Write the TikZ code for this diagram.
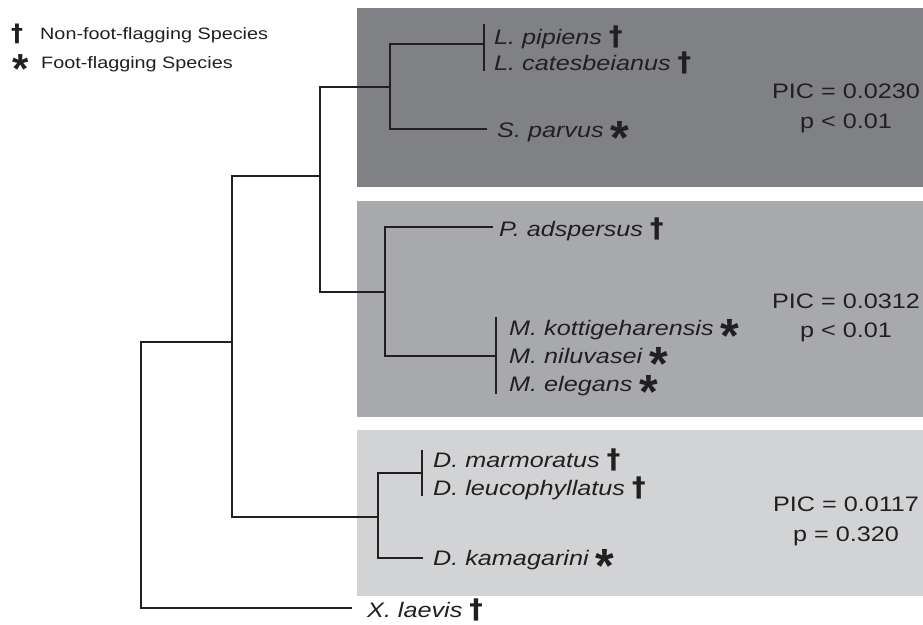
\documentclass[tikz,border=0pt]{standalone}
\usepackage{fontspec}
\setmainfont{Liberation Sans}
\newfontfamily\labfont[FakeStretch=1.2]{Liberation Sans}
\newfontfamily\symfont{Liberation Sans}
\newfontfamily\dagfont{DejaVu Sans}
\definecolor{ink}{HTML}{231F20}
\definecolor{boxA}{HTML}{808184}
\definecolor{boxB}{HTML}{A7A9AC}
\definecolor{boxC}{HTML}{D1D3D4}
\newcommand{\dagsym}{{\dagfont\upshape\bfseries\fontsize{27}{27}\selectfont\smash{\raisebox{-1pt}{\char"2020}}}}
\newcommand{\astsym}{{\symfont\upshape\bfseries\fontsize{48}{48}\selectfont\smash{\raisebox{-17pt}{*}}}}
\newcommand{\legdag}{{\dagfont\upshape\bfseries\fontsize{24}{24}\selectfont\char"2020}}
\newcommand{\legast}{{\symfont\upshape\bfseries\fontsize{42}{42}\selectfont\smash{\raisebox{-15pt}{*}}}}
\begin{document}
\begin{tikzpicture}[x=1pt,y=-1pt,
  species/.style={anchor=base west,inner sep=0pt,text=ink,font=\labfont\itshape\fontsize{21}{25}\selectfont},
  stat/.style={anchor=base,inner sep=0pt,text=ink,font=\labfont\fontsize{21}{25}\selectfont},
  legend/.style={anchor=base west,inner sep=0pt,text=ink,font=\labfont\fontsize{16.5}{20}\selectfont},
  symb/.style={anchor=base,inner sep=0pt,text=ink},
  branch/.style={draw=ink,line width=1.8pt},
  tipbar/.style={draw=ink,line width=1.5pt}]
\useasboundingbox (0,0) rectangle (923,624);
% clade boxes
\fill[boxA] (357,8) rectangle (923,187);
\fill[boxB] (357,201) rectangle (923,417);
\fill[boxC] (357,430) rectangle (923,596);
% legend
\node[symb] (ld) at (17,41) {\legdag};
\node[legend] (lt1) at (40,39) {Non-foot-flagging Species};
\node[symb] (la) at (21,68) {\legast};
\node[legend] (lt2) at (41,68) {Foot-flagging Species};
% tree coordinates
\coordinate (a0) at (141,342);
\coordinate (a1) at (141,608);
\coordinate (xl) at (352,608);
\coordinate (b) at (232,342);
\coordinate (b1) at (232,176);
\coordinate (b2) at (232,517);
\coordinate (c) at (320,176);
\coordinate (c1) at (320,87);
\coordinate (c2) at (320,292);
\coordinate (d) at (390,87);
\coordinate (d1) at (390,44);
\coordinate (d2) at (390,129);
\coordinate (e1) at (484,44);
\coordinate (e1t) at (484,24);
\coordinate (e1b) at (484,71);
\coordinate (e2) at (487,129);
\coordinate (f) at (385,292);
\coordinate (f1) at (385,227);
\coordinate (f2) at (385,356);
\coordinate (g1) at (493,227);
\coordinate (g2) at (496,356);
\coordinate (g2t) at (496,317);
\coordinate (g2b) at (496,394);
\coordinate (h) at (378,517);
\coordinate (h1) at (378,473);
\coordinate (h2) at (378,558);
\coordinate (i1) at (422,473);
\coordinate (i1t) at (422,450);
\coordinate (i1b) at (422,496);
\coordinate (i2) at (423,558);
% branches
\draw[branch] (xl) -- (a1) -- (a0) -- (b);
\draw[branch] (c) -- (b1) -- (b2) -- (h);
\draw[branch] (d) -- (c1) -- (c2) -- (f);
\draw[branch] (e1) -- (d1) -- (d2) -- (e2);
\draw[branch] (g1) -- (f1) -- (f2) -- (g2);
\draw[branch] (i1) -- (h1) -- (h2) -- (i2);
\draw[tipbar] (e1t) -- (e1b);
\draw[tipbar] (g2t) -- (g2b);
\draw[tipbar] (i1t) -- (i1b);
% species
\node[species] (lpip) at (494,44) {L. pipiens \dagsym};
\node[species] (lcat) at (494,70) {L. catesbeianus \dagsym};
\node[species] (spar) at (497,137) {S. parvus \astsym};
\node[species] (pads) at (499,236) {P. adspersus \dagsym};
\node[species] (mkot) at (509,335) {M. kottigeharensis \astsym};
\node[species] (mnil) at (509,363) {M. niluvasei \astsym};
\node[species] (mele) at (509,391) {M. elegans \astsym};
\node[species] (dmar) at (433,467) {D. marmoratus \dagsym};
\node[species] (dleu) at (433,495) {D. leucophyllatus \dagsym};
\node[species] (dkam) at (433,565) {D. kamagarini \astsym};
\node[species] (xlae) at (367,617) {X. laevis \dagsym};
% statistics
\node[stat] (p1a) at (846,98) {PIC = 0.0230};
\node[stat] (p1b) at (846,128) {p < 0.01};
\node[stat] (p2a) at (846,308) {PIC = 0.0312};
\node[stat] (p2b) at (846,337) {p < 0.01};
\node[stat] (p3a) at (846,511) {PIC = 0.0117};
\node[stat] (p3b) at (846,541) {p = 0.320};
\end{tikzpicture}
\end{document}
